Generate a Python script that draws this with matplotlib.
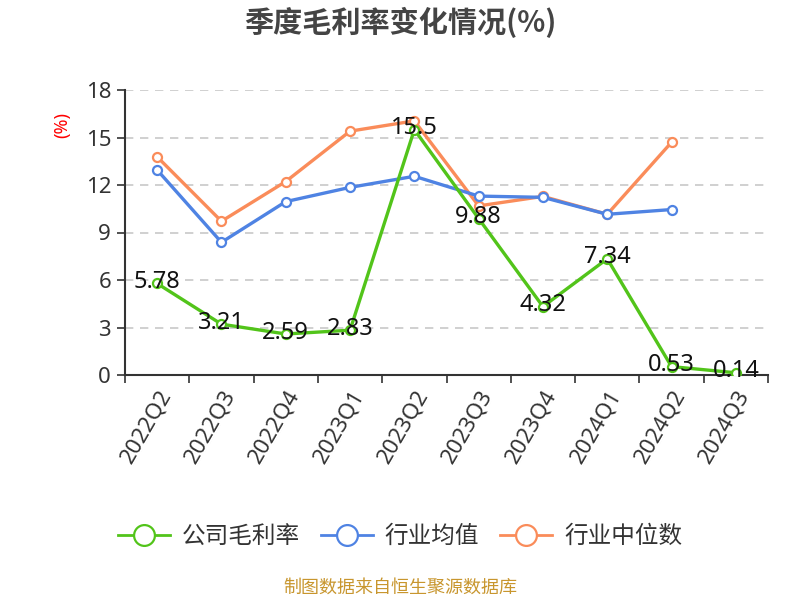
import matplotlib
matplotlib.use("Agg")
import matplotlib.pyplot as plt
from matplotlib.lines import Line2D

plt.rcParams['font.family'] = ['Noto Sans', 'Noto Sans CJK SC', 'DejaVu Sans']

quarters = ["2022Q2", "2022Q3", "2022Q4", "2023Q1", "2023Q2", "2023Q3",
            "2023Q4", "2024Q1", "2024Q2", "2024Q3"]
company = [5.78, 3.21, 2.59, 2.83, 15.5, 9.88, 4.32, 7.34, 0.53, 0.14]
industry_avg = [12.95, 8.38, 10.95, 11.85, 12.55, 11.3, 11.22, 10.15, 10.45]
industry_median = [13.78, 9.71, 12.22, 15.4, 16.05, 10.68, 11.28, 10.15, 14.7]
series_names = ["公司毛利率", "行业均值", "行业中位数"]
yticks = [0, 3, 6, 9, 12, 15, 18]

c_green = "#52C41A"
c_blue = "#4F83E3"
c_orange = "#FA8C5A"

fig = plt.figure(figsize=(8, 6), dpi=100)
ax = fig.add_axes([125/800, 1-375/600, (768-125)/800, (375-90)/600])

x = list(range(len(quarters)))
lw = 2.4
ms = 6.5
ax.plot(x[:len(industry_median)], industry_median, color=c_orange, lw=lw, marker='o',
        ms=ms, mfc='white', mec=c_orange, mew=1.6, zorder=3)
ax.plot(x[:len(industry_avg)], industry_avg, color=c_blue, lw=lw, marker='o',
        ms=ms, mfc='white', mec=c_blue, mew=1.6, zorder=4)
ax.plot(x, company, color=c_green, lw=lw, marker='o',
        ms=ms, mfc='white', mec=c_green, mew=1.6, zorder=5)

for xi, v in zip(x, company):
    ax.annotate(f"{v:g}", (xi, v), xytext=(0, 1), textcoords='offset points',
                ha='center', va='center', fontsize=17, color='#111111', zorder=6)

ax.set_xlim(-0.5, len(quarters) - 0.5)
ax.set_ylim(0, 18)
ax.set_yticks(yticks)
ax.set_yticklabels([str(t) for t in yticks], fontsize=16, color='#333333')
ax.set_xticks(x)
ax.set_xticklabels(quarters, rotation=60, ha='right', va='top',
                   rotation_mode='anchor', fontsize=16, color='#333333')
ax.set_xticks([i - 0.5 for i in range(len(quarters) + 1)], minor=True)
ax.tick_params(axis='x', which='major', length=0, pad=8)
ax.tick_params(axis='x', which='minor', length=6, width=1.2, color='#333333')
ax.tick_params(axis='y', length=6, width=1.2, color='#333333', pad=4)

ax.grid(axis='y', linestyle=(0, (5, 4)), color='#C8C8C8', lw=1.2)
ax.set_axisbelow(True)
for s in ['top', 'right']:
    ax.spines[s].set_visible(False)
for s in ['left', 'bottom']:
    ax.spines[s].set_color('#333333')
    ax.spines[s].set_linewidth(1.5)

fig.text(62/800, 1-125/600, "(%)", color='red', fontsize=13, rotation=90,
         ha='center', va='center')
fig.text(0.5, 1-22/600, "季度毛利率变化情况(%)", fontsize=21, fontweight='bold',
         color='#444444', ha='center', va='center',
         family=['Noto Sans CJK SC', 'DejaVu Sans'])

handles = [Line2D([0], [0], color=c, lw=2, marker='o', ms=15, mfc='white',
                  mec=c, mew=1.6) for c in (c_green, c_blue, c_orange)]
fig.legend(handles, series_names, loc='center', bbox_to_anchor=(0.5, 1-537/600),
           ncol=3, frameon=False, fontsize=17, handlelength=2.2,
           columnspacing=0.9, handletextpad=0.5, labelcolor='#333333')

fig.text(0.5, 1-588/600, "制图数据来自恒生聚源数据库", fontsize=13,
         color='#C8962E', ha='center', va='center')

fig.savefig("out.png", dpi=100)
